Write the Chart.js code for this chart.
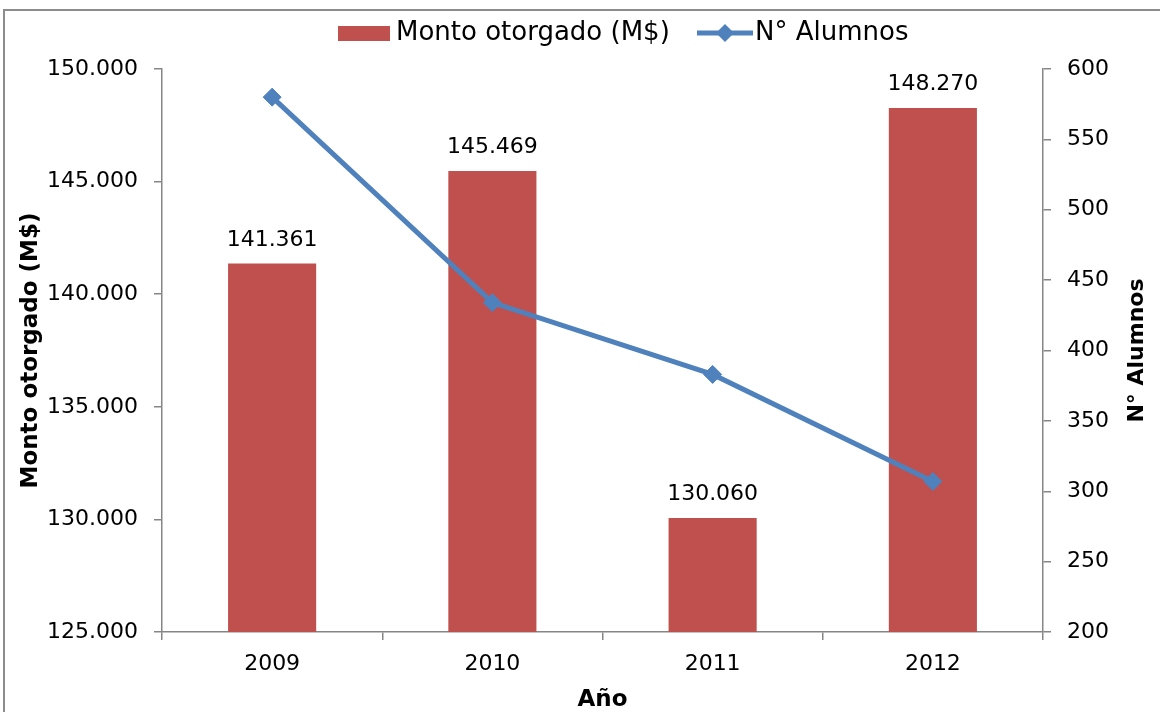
<!DOCTYPE html>
<html>
<head>
<meta charset="utf-8">
<script src="https://cdn.jsdelivr.net/npm/chart.js@4"></script>
<style>
  body { margin: 0; background: #fff; }
</style>
</head>
<body>
<canvas id="chart" width="1160" height="712"></canvas>
<script>
const years = ["2009", "2010", "2011", "2012"];
const monto = [141361, 145469, 130060, 148270];
const alumnos = [580, 434, 383, 307];

const barColor = "#C0504D";
const lineColor = "#4F81BD";
const axisColor = "#868686";
const fontFamily = "'DejaVu Sans'";

Chart.defaults.font.family = fontFamily;
Chart.defaults.color = "#000";

function fmt(v) {
  return String(v).replace(/\B(?=(\d{3})+(?!\d))/g, ".");
}

// marco gris alrededor del gráfico
const framePlugin = {
  id: "frame",
  beforeDraw(chart) {
    const ctx = chart.ctx;
    ctx.save();
    ctx.strokeStyle = "#8c8c8c";
    ctx.lineWidth = 2;
    ctx.strokeRect(4, 10, 1300, 900);
    ctx.restore();
  },
};

// etiquetas de valor sobre las barras + título del eje derecho + leyenda
const extrasPlugin = {
  id: "extras",
  afterDraw(chart) {
    const ctx = chart.ctx;
    ctx.save();

    const meta = chart.getDatasetMeta(0);
    ctx.font = "22px " + fontFamily;
    ctx.fillStyle = "#000";
    ctx.textAlign = "center";
    ctx.textBaseline = "alphabetic";
    meta.data.forEach((bar, i) => {
      ctx.fillText(fmt(monto[i]), bar.x, bar.y - 18);
    });

    // título eje derecho (leído de abajo hacia arriba)
    ctx.save();
    ctx.translate(1137, (chart.chartArea.top + chart.chartArea.bottom) / 2);
    ctx.rotate(-Math.PI / 2);
    ctx.font = "bold 22px " + fontFamily;
    ctx.textBaseline = "middle";
    ctx.fillText("N° Alumnos", 0, 0);
    ctx.restore();

    // leyenda
    const ly = 33;
    ctx.font = "26px " + fontFamily;
    ctx.textAlign = "left";
    ctx.textBaseline = "middle";
    let x = 338;
    ctx.fillStyle = barColor;
    ctx.fillRect(x, 26, 52, 15);
    ctx.fillStyle = "#000";
    ctx.fillText(chart.data.datasets[0].label, x + 58, ly);
    x = 697;
    ctx.strokeStyle = lineColor;
    ctx.lineWidth = 5;
    ctx.beginPath();
    ctx.moveTo(x, ly);
    ctx.lineTo(x + 56, ly);
    ctx.stroke();
    ctx.fillStyle = lineColor;
    ctx.beginPath();
    ctx.moveTo(x + 28, ly - 9);
    ctx.lineTo(x + 37, ly);
    ctx.lineTo(x + 28, ly + 9);
    ctx.lineTo(x + 19, ly);
    ctx.closePath();
    ctx.fill();
    ctx.fillStyle = "#000";
    ctx.fillText(chart.data.datasets[1].label, x + 58, ly);

    ctx.restore();
  },
};

const ctx = document.getElementById("chart").getContext("2d");

new Chart(ctx, {
  type: "bar",
  data: {
    labels: years,
    datasets: [
      {
        type: "bar",
        label: "Monto otorgado (M$)",
        data: monto,
        backgroundColor: barColor,
        yAxisID: "y",
        categoryPercentage: 1,
        barPercentage: 0.4,
        order: 1,
      },
      {
        type: "line",
        label: "N° Alumnos",
        data: alumnos,
        borderColor: lineColor,
        backgroundColor: lineColor,
        borderWidth: 5,
        pointStyle: "rectRot",
        pointRadius: 9,
        pointBorderWidth: 1,
        tension: 0,
        yAxisID: "y1",
        order: 0,
      },
    ],
  },
  options: {
    responsive: false,
    animation: false,
    layout: {
      padding: { top: 69, left: 0, right: 0, bottom: 0 },
    },
    plugins: {
      legend: { display: false },
      tooltip: { enabled: false },
    },
    scales: {
      x: {
        offset: true,
        grid: {
          offset: true,
          drawOnChartArea: false,
          color: axisColor,
          lineWidth: 1.5,
          tickLength: 8,
        },
        border: { color: axisColor, width: 1.5 },
        ticks: {
          font: { size: 22 },
          padding: 11,
        },
        title: {
          display: true,
          text: "Año",
          font: { size: 23, weight: "bold", lineHeight: 1 },
          padding: { top: 0, bottom: 0 },
        },
        afterFit(scale) {
          scale.height = 80;
        },
      },
      y: {
        position: "left",
        min: 125000,
        max: 150000,
        grid: {
          drawOnChartArea: false,
          color: axisColor,
          lineWidth: 1.5,
          tickLength: 8,
        },
        border: { color: axisColor, width: 1.5 },
        ticks: {
          stepSize: 5000,
          font: { size: 22 },
          padding: 16,
          callback: (v) => fmt(v),
        },
        title: {
          display: true,
          text: "Monto otorgado (M$)",
          font: { size: 23, weight: "bold", lineHeight: 1 },
          padding: { top: 20, bottom: 0 },
        },
        afterFit(scale) {
          scale.width = 162;
        },
      },
      y1: {
        position: "right",
        min: 200,
        max: 600,
        grid: {
          drawOnChartArea: false,
          color: axisColor,
          lineWidth: 1.5,
          tickLength: 8,
        },
        border: { color: axisColor, width: 1.5 },
        ticks: {
          stepSize: 50,
          font: { size: 22 },
          padding: 16,
        },
        afterFit(scale) {
          scale.width = 117;
        },
      },
    },
  },
  plugins: [framePlugin, extrasPlugin],
});
</script>
</body>
</html>
